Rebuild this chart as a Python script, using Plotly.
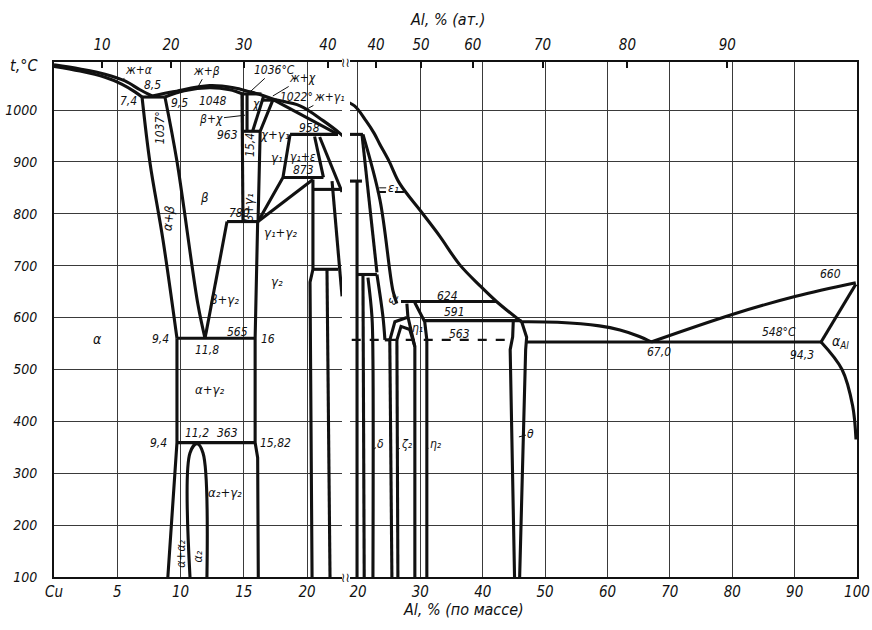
import plotly.graph_objects as go

# ---------------- data: wt.% Al vs temperature ----------------
# liquidus / solidus
liq_alpha_w = [0, 2.06, 4.03, 5.61, 6.8, 7.75]
liq_alpha_t = [1087, 1079, 1069, 1056, 1039, 1027]
sol_alpha_w = [0, 2.06, 4.03, 5.35, 6.4, 6.96]
sol_alpha_t = [1084, 1075, 1063, 1050, 1035, 1025]
liq_main_w = [7.75, 9.4, 12.3, 14.2, 15.5, 16.4, 17.3, 19.45, 21.3, 22.6, 23.5, 25.0, 26.7, 30.2, 33.1, 36.3, 39.5, 42.2, 46.2]
liq_main_t = [1027, 1035, 1047, 1043, 1035, 1029, 1021, 1008, 979, 955, 934, 901, 858, 803, 757, 702, 662, 631, 592]
liq_theta_w = [46.2, 52.0, 58.7, 62.0, 65.0, 67.0]
liq_theta_t = [592, 591, 584, 576, 564, 553]
liq_al_w = [67.0, 80.0, 90.2, 99.8]
liq_al_t = [553, 606, 641, 667]
sol_al_w = [94.24, 99.8]
sol_al_t = [553, 664]
solvus_al_w = [94.24, 97.6, 99.3, 99.84]
solvus_al_t = [553, 500, 430, 365]
sol_beta_w = [8.77, 10.3, 12.3, 13.9, 14.9]
sol_beta_t = [1025, 1037, 1043, 1039, 1031]
sol_g1_w = [17.4, 22.45]
sol_g1_t = [1019, 953]

# isotherms
h1037_w, h1037_t = [6.96, 8.77], [1025, 1025]
h1036_w, h1036_t = [14.86, 16.4], [1031, 1031]
h1022_w, h1022_t = [16.4, 17.6], [1019, 1019]
h963_w, h963_t = [14.94, 16.3], [959, 959]
h958_w, h958_t = [18.66, 22.45], [953, 953]
h873_w, h873_t = [18.1, 21.3], [870, 870]
h847_w, h847_t = [20.47, 22.77], [847, 847]
h780_w, h780_t = [13.68, 16.13], [785, 785]
h690_w, h690_t = [20.47, 22.45], [693, 693]
h565_w, h565_t = [9.72, 15.89], [560, 560]
h363_w, h363_t = [9.72, 15.9], [359, 359]
h624_w, h624_t = [26.9, 42.2], [631, 631]
h591_w, h591_t = [30.7, 46.2], [594, 594]
h563_w, h563_t = [19.0, 44.8], [557, 557]
h548_w, h548_t = [47.0, 94.24], [553, 553]
r_h953_w, r_h953_t = [18.72, 20.8], [953, 953]
r_h863_w, r_h863_t = [18.72, 20.64], [863, 863]
r_h683_w, r_h683_t = [19.85, 23.04], [683, 683]
r_eps_dash_w, r_eps_dash_t = [23.04, 27.84], [842, 842]
r_box_w, r_box_t = [24.3, 25.1], [557, 557]

# phase boundaries, Cu-rich side
a_ab_w = [6.96, 7.59, 8.62, 9.72]
a_ab_t = [1025, 898, 749, 560]
b_ab_w = [8.77, 9.72, 11.38, 11.94]
b_ab_t = [1025, 901, 625, 560]
b_right_w = [13.68, 11.94]
b_right_t = [785, 560]
b_bg1_w = [14.86, 14.94]
b_bg1_t = [1031, 785]
chi_l_w = [15.26, 15.26]
chi_l_t = [1031, 959]
chi_r_w = [16.6, 15.7]
chi_r_t = [1029, 959]
g1_l_w = [17.3, 16.3, 16.13]
g1_l_t = [1019, 959, 785]
g1_r_w = [18.66, 18.1, 16.13]
g1_r_t = [953, 870, 785]
eps_a_w = [20.6, 21.3]
eps_a_t = [949, 870]
eps_b_w = [21.0, 22.77]
eps_b_t = [948, 842]
g2_l_w = [16.1, 15.9, 15.9, 16.1, 16.15]
g2_l_t = [785, 560, 359, 330, 100]
g2_up_w = [20.47, 16.13]
g2_up_t = [866, 785]
g2_r_w = [20.47, 20.47, 20.24, 20.4]
g2_r_t = [866, 693, 668, 100]
d_l_w = [21.58, 21.82]
d_l_t = [693, 100]
l_edge_w = [21.98, 22.77]
l_edge_t = [863, 641]
a_low_w = [9.72, 9.72, 9.0]
a_low_t = [560, 359, 100]
a2_w = [10.75, 10.75, 11.3, 11.78, 12.09]
a2_t = [100, 339, 357, 339, 100]

# phase boundaries, Al-rich part of the right panel
r_v1_w, r_v1_t = [19.85, 19.85], [863, 100]
r_v2_w, r_v2_t = [20.8, 21.0], [683, 100]
r_l4_w, r_l4_t = [20.64, 23.04], [953, 687]
r_f1_w, r_f1_t = [20.8, 23.52, 25.6, 26.24], [953, 827, 652, 627]
r_dl_w, r_dl_t = [21.6, 22.24, 22.4, 22.4], [677, 602, 519, 100]
r_e2_w, r_e2_t = [23.04, 24.0, 24.32], [683, 602, 557]
r_z2l_w, r_z2l_t = [25.1, 25.44], [557, 100]
r_z2r_w, r_z2r_t = [26.24, 26.4], [557, 100]
r_z1a_w, r_z1a_t = [25.12, 25.92, 27.84], [557, 592, 600]
r_z1b_w, r_z1b_t = [26.24, 26.9, 28.3, 29.12], [557, 583, 577, 544]
r_e1l_w, r_e1l_t = [27.84, 28.0, 29.12, 29.12], [627, 602, 544, 100]
r_e1r_w, r_e1r_t = [29.1, 30.7, 31.04, 31.04], [629, 592, 557, 100]
th_l_w, th_l_t = [44.9, 44.8, 44.4, 45.1], [594, 563, 538, 100]
th_r_w, th_r_t = [46.24, 47.04, 46.88, 45.92], [592, 562, 538, 100]

# axis ticks
y_ticks = [100, 200, 300, 400, 500, 600, 700, 800, 900, 1000]
bot_left_vals = [0, 5, 10, 15, 20]
bot_left_text = ["Cu", "5", "10", "15", "20"]
bot_right_vals = [20, 30, 40, 50, 60, 70, 80, 90, 100]
bot_right_text = ["20", "30", "40", "50", "60", "70", "80", "90", "100"]
top_left_vals = [3.8, 9.25, 15.0, 21.65]
top_left_text = ["10", "20", "30", "40"]
top_right_vals = [22.9, 30.1, 38.4, 49.6, 63.2, 79.2]
top_right_text = ["40", "50", "60", "70", "80", "90"]

# ---------------- drawing ----------------
INK = "#111111"
GRID = "#3a3a3a"
FONT = "DejaVu Sans Condensed, Liberation Sans Narrow, DejaVu Sans"
LW = 3.1
LEFT_RANGE = [0, 22.77]
RIGHT_RANGE = [18.72, 100]
Y_RANGE = [100, 1092.5]

# (x, y, panel, shape, dash)   panel: L = left, R = right, B = both
lines = [
    (liq_alpha_w, liq_alpha_t, "L", "spline", "solid"),
    (sol_alpha_w, sol_alpha_t, "L", "spline", "solid"),
    (liq_main_w, liq_main_t, "B", "spline", "solid"),
    (liq_theta_w, liq_theta_t, "R", "spline", "solid"),
    (liq_al_w, liq_al_t, "R", "spline", "solid"),
    (sol_al_w, sol_al_t, "R", "linear", "solid"),
    (solvus_al_w, solvus_al_t, "R", "spline", "solid"),
    (sol_beta_w, sol_beta_t, "L", "spline", "solid"),
    (sol_g1_w, sol_g1_t, "L", "linear", "solid"),
    (h1037_w, h1037_t, "L", "linear", "solid"),
    (h1036_w, h1036_t, "L", "linear", "solid"),
    (h1022_w, h1022_t, "L", "linear", "solid"),
    (h963_w, h963_t, "L", "linear", "solid"),
    (h958_w, h958_t, "L", "linear", "solid"),
    (h873_w, h873_t, "L", "linear", "solid"),
    (h847_w, h847_t, "L", "linear", "solid"),
    (h780_w, h780_t, "L", "linear", "solid"),
    (h690_w, h690_t, "L", "linear", "solid"),
    (h565_w, h565_t, "L", "linear", "solid"),
    (h363_w, h363_t, "L", "linear", "solid"),
    (h624_w, h624_t, "R", "linear", "solid"),
    (h591_w, h591_t, "R", "linear", "solid"),
    (h563_w, h563_t, "R", "linear", "dash"),
    (h548_w, h548_t, "R", "linear", "solid"),
    (r_h953_w, r_h953_t, "R", "linear", "solid"),
    (r_h863_w, r_h863_t, "R", "linear", "solid"),
    (r_h683_w, r_h683_t, "R", "linear", "solid"),
    (r_eps_dash_w, r_eps_dash_t, "R", "linear", "dash"),
    (r_box_w, r_box_t, "R", "linear", "solid"),
    (a_ab_w, a_ab_t, "L", "spline", "solid"),
    (b_ab_w, b_ab_t, "L", "spline", "solid"),
    (b_right_w, b_right_t, "L", "linear", "solid"),
    (b_bg1_w, b_bg1_t, "L", "linear", "solid"),
    (chi_l_w, chi_l_t, "L", "linear", "solid"),
    (chi_r_w, chi_r_t, "L", "linear", "solid"),
    (g1_l_w, g1_l_t, "L", "linear", "solid"),
    (g1_r_w, g1_r_t, "L", "linear", "solid"),
    (eps_a_w, eps_a_t, "L", "linear", "solid"),
    (eps_b_w, eps_b_t, "L", "linear", "solid"),
    (g2_l_w, g2_l_t, "L", "linear", "solid"),
    (g2_up_w, g2_up_t, "L", "linear", "solid"),
    (g2_r_w, g2_r_t, "L", "linear", "solid"),
    (d_l_w, d_l_t, "L", "linear", "solid"),
    (l_edge_w, l_edge_t, "L", "linear", "solid"),
    (a_low_w, a_low_t, "L", "linear", "solid"),
    (a2_w, a2_t, "L", "spline", "solid"),
    (r_v1_w, r_v1_t, "R", "linear", "solid"),
    (r_v2_w, r_v2_t, "R", "linear", "solid"),
    (r_l4_w, r_l4_t, "R", "linear", "solid"),
    (r_f1_w, r_f1_t, "R", "spline", "solid"),
    (r_dl_w, r_dl_t, "R", "spline", "solid"),
    (r_e2_w, r_e2_t, "R", "spline", "solid"),
    (r_z2l_w, r_z2l_t, "R", "linear", "solid"),
    (r_z2r_w, r_z2r_t, "R", "linear", "solid"),
    (r_z1a_w, r_z1a_t, "R", "linear", "solid"),
    (r_z1b_w, r_z1b_t, "R", "linear", "solid"),
    (r_e1l_w, r_e1l_t, "R", "linear", "solid"),
    (r_e1r_w, r_e1r_t, "R", "linear", "solid"),
    (th_l_w, th_l_t, "R", "linear", "solid"),
    (th_r_w, th_r_t, "R", "linear", "solid"),
]

fig = go.Figure()
for xs, ys, panel, shape, dash in lines:
    targets = []
    if panel in ("L", "B"):
        targets.append(("x", "y"))
    if panel in ("R", "B"):
        targets.append(("x2", "y2"))
    for xa, ya in targets:
        fig.add_trace(go.Scatter(
            x=xs, y=ys, xaxis=xa, yaxis=ya, mode="lines",
            line=dict(color=INK, width=2.2 if dash != "solid" else LW, shape=shape, dash=dash),
            hoverinfo="skip", showlegend=False))

# empty traces so that the top (at.%) axes are drawn
fig.add_trace(go.Scatter(x=[None], y=[None], xaxis="x3", yaxis="y", showlegend=False, hoverinfo="skip"))
fig.add_trace(go.Scatter(x=[None], y=[None], xaxis="x4", yaxis="y2", showlegend=False, hoverinfo="skip"))

# region and value labels: (text, panel, w, t, angle, size)
labels = [
    ("8,5", "L", 7.75, 1048, 0, 12),
    ("7,4", "L", 5.85, 1018, 0, 12),
    ("9,5", "L", 9.96, 1014, 0, 12),
    ("1048", "L", 12.57, 1018, 0, 12),
    ("1022°", "L", 19.2, 1025, 0, 12),
    ("1037°", "L", 8.38, 965, -90, 12),
    ("χ", "L", 15.95, 1011, 0, 12),
    ("963", "L", 13.75, 952, 0, 12),
    ("χ+γ₁", "L", 17.5, 952, 0, 13),
    ("958", "L", 20.2, 966, 0, 12),
    ("15,4", "L", 15.55, 932, -90, 12),
    ("γ₁", "L", 17.6, 909, 0, 13),
    ("γ₁+ε", "L", 19.7, 909, 0, 12),
    ("873", "L", 19.7, 884, 0, 12),
    ("β+γ₁", "L", 15.35, 811, -90, 13),
    ("α+β", "L", 9.05, 793, -82, 13),
    ("β", "L", 11.94, 832, 0, 13),
    ("780", "L", 14.7, 801, 0, 12),
    ("γ₁+γ₂", "L", 17.9, 764, 0, 13),
    ("γ₂", "L", 17.6, 670, 0, 13),
    ("β+γ₂", "L", 13.5, 635, 0, 13),
    ("565", "L", 14.47, 573, 0, 12),
    ("9,4", "L", 8.45, 558, 0, 12),
    ("11,8", "L", 12.1, 538, 0, 12),
    ("16", "L", 16.95, 558, 0, 12),
    ("α", "L", 3.4, 558, 0, 14),
    ("α+γ₂", "L", 12.33, 461, 0, 13),
    ("9,4", "L", 8.3, 359, 0, 12),
    ("11,2", "L", 11.3, 378, 0, 12),
    ("363", "L", 13.75, 378, 0, 12),
    ("15,82", "L", 17.5, 359, 0, 12),
    ("α₂+γ₂", "L", 13.5, 262, 0, 13),
    ("α+α₂", "L", 10.05, 145, -90, 12),
    ("α₂", "L", 11.4, 140, -90, 12),
    ("ε₂", "R", 25.6, 636, -70, 13),
    ("η₁", "R", 29.5, 580, 0, 12),
    ("624", "R", 34.4, 641, 0, 12),
    ("591", "R", 35.5, 610, 0, 12),
    ("563", "R", 36.2, 568, 0, 12),
    ("660", "R", 95.8, 684, 0, 12),
    ("548°C", "R", 87.5, 572, 0, 12),
    ("67,0", "R", 68.3, 533, 0, 12),
    ("94,3", "R", 91.2, 528, 0, 12),
    ("α<sub>Al</sub>", "R", 97.3, 553, 0, 14),
]

# labels with leader lines: (text, panel, target w, target t, ax, ay, size)
leaders = [
    ("ж+α", "L", 5.38, 1058, 16, -10, 12),
    ("ж+β", "L", 11.3, 1041, 10, -18, 12),
    ("1036°C", "L", 15.5, 1035, 24, -22, 12),
    ("ж+χ", "L", 17.3, 1027, 30, -18, 12),
    ("ж+γ₁", "L", 20.0, 1002, 22, -12, 12),
    ("β+χ", "L", 15.1, 990, -34, 4, 12),
    ("ε₁", "R", 23.4, 850, 14, 0, 13),
    ("δ", "R", 22.4, 345, 8, -6, 12),
    ("ζ₂", "R", 26.3, 345, 10, -6, 12),
    ("η₂", "R", 30.9, 345, 10, -6, 12),
    ("θ", "R", 45.8, 370, 12, -3, 12),
]

ann = []
for text, panel, w, t, ang, size in labels:
    xr, yr = ("x", "y") if panel == "L" else ("x2", "y2")
    ann.append(dict(text=text, x=w, y=t, xref=xr, yref=yr, showarrow=False, textangle=ang,
                    font=dict(family=FONT, size=size, color=INK, style="italic")))
for text, panel, w, t, ax, ay, size in leaders:
    xr, yr = ("x", "y") if panel == "L" else ("x2", "y2")
    ann.append(dict(text=text, x=w, y=t, xref=xr, yref=yr, showarrow=True, arrowhead=0,
                    arrowwidth=1, arrowcolor=INK, ax=ax, ay=ay, standoff=0,
                    font=dict(family=FONT, size=size, color=INK, style="italic")))

# axis titles and the scale break marks
ann += [
    dict(text="t,°C", xref="paper", yref="paper", x=-0.017, y=0.994, xanchor="right", yanchor="middle",
         showarrow=False, font=dict(family=FONT, size=16, color=INK, style="italic")),
    dict(text="Al, % (ат.)", xref="paper", yref="paper", x=0.49, y=1.083, yanchor="middle",
         showarrow=False, font=dict(family=FONT, size=16, color=INK, style="italic")),
    dict(text="Al, % (по массе)", xref="paper", yref="paper", x=0.51, y=-0.064, yanchor="middle",
         showarrow=False, font=dict(family=FONT, size=16, color=INK, style="italic")),
    dict(text="≀≀", xref="paper", yref="paper", x=0.3636, y=0.0, yanchor="middle", showarrow=False,
         font=dict(family=FONT, size=13, color=INK)),
    dict(text="≀≀", xref="paper", yref="paper", x=0.3636, y=1.0, yanchor="middle", showarrow=False,
         font=dict(family=FONT, size=13, color=INK)),
]

tickfont = dict(family=FONT, size=15, color=INK, style="italic")
ytickfont = dict(family=FONT, size=14, color=INK, style="italic")
common_x = dict(showgrid=True, gridcolor=GRID, gridwidth=1, zeroline=False, showline=True,
                mirror=True, linecolor=INK, linewidth=2, ticks="", tickfont=tickfont,
                automargin=False)
top_x = dict(ticks="inside", ticklen=6, tickwidth=1.5, tickcolor=INK, showgrid=False,
             zeroline=False, showline=False, tickfont=tickfont, automargin=False,
             ticklabelstandoff=8)
fig.update_layout(
    width=872, height=630,
    margin=dict(l=54, r=15, t=62, b=53, autoexpand=False),
    paper_bgcolor="white", plot_bgcolor="white",
    showlegend=False,
    xaxis=dict(domain=[0, 0.3587], range=LEFT_RANGE, anchor="y",
               tickvals=bot_left_vals, ticktext=bot_left_text, **common_x),
    xaxis2=dict(domain=[0.3686, 1], range=RIGHT_RANGE, anchor="y2",
                tickvals=bot_right_vals, ticktext=bot_right_text, **common_x),
    xaxis3=dict(overlaying="x", side="top", anchor="y", range=LEFT_RANGE,
                tickvals=top_left_vals, ticktext=top_left_text, **top_x),
    xaxis4=dict(overlaying="x2", side="top", anchor="y2", range=RIGHT_RANGE,
                tickvals=top_right_vals, ticktext=top_right_text, **top_x),
    yaxis=dict(domain=[0, 1], range=Y_RANGE, anchor="x", tickvals=y_ticks,
               showgrid=True, gridcolor=GRID, gridwidth=1, zeroline=False, showline=True,
               linecolor=INK, linewidth=2, ticks="", tickfont=ytickfont, ticklabelstandoff=12,
               automargin=False),
    yaxis2=dict(domain=[0, 1], range=Y_RANGE, anchor="x2", matches="y", side="right",
                tickvals=y_ticks, showticklabels=False, showgrid=True, gridcolor=GRID,
                gridwidth=1, zeroline=False, showline=True, linecolor=INK, linewidth=2, ticks="",
                automargin=False),
    annotations=ann,
)

# the page has no body margin, so the 872x630 figure fills the window exactly
fig.write_html("out.html", config={"displayModeBar": False},
               post_script="document.body.style.margin='0';document.body.style.overflow='hidden';")
